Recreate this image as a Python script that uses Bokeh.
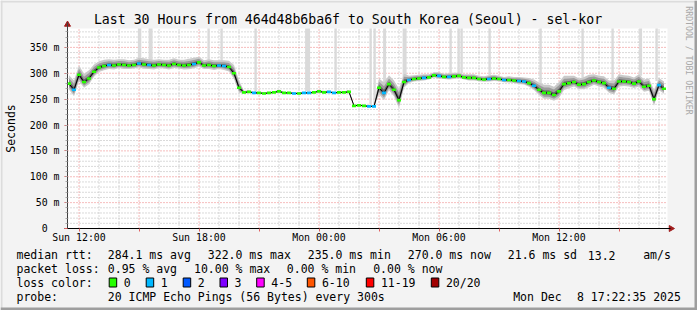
import numpy as np
from bokeh.plotting import figure
from bokeh.models import Range1d, FixedTicker, LinearAxis
from bokeh.core.properties import value
from bokeh.embed import file_html
from bokeh.resources import INLINE

FONT = "DejaVu Sans Mono"

# ---------------- data ----------------
# time axis in hours since Sun 00:00
T_START, T_END = 11.425, 41.425
Y_TOP = 386.5

x_ticks = [12, 15, 18, 21, 24, 27, 30, 33, 36, 39]
x_tick_labels = {12: "Sun 12:00", 18: "Sun 18:00", 24: "Mon 00:00",
                 30: "Mon 06:00", 36: "Mon 12:00"}
x_hours = [h for h in range(12, 42) if h not in x_ticks]

y_ticks = [0, 50, 100, 150, 200, 250, 300, 350]
y_tick_labels = ["0\u00a0\u00a0", "50 m", "100 m", "150 m", "200 m", "250 m", "300 m", "350 m"]
y_minor = [v for v in range(10, 390, 10) if v % 50]

sample_start, sample_step = 11.5, 0.25   # 15 min samples

median_ms = [280, 268, 297, 283, 290, 303, 311, 314,
             316, 315, 317, 316, 315, 316, 319, 317, 316, 315,
             317, 316, 315, 318, 316, 315, 316, 318, 321, 315,
             316, 314, 315, 314, 312, 300, 272, 263, 264, 262,
             262, 261, 262, 263, 265, 262, 262, 261, 261, 262,
             262, 263, 265, 263, 264, 262, 263, 263, 264, 237,
             238, 237, 236, 236, 272, 262, 279, 268, 248, 283,
             287, 289, 290, 291, 292, 296, 295, 293, 293, 294,
             295, 292, 291, 291, 289, 288, 289, 290, 289, 287,
             287, 286, 285, 284, 281, 276, 268, 262, 262, 258,
             265, 279, 281, 283, 278, 279, 283, 286, 283, 281,
             272, 270, 284, 284, 283, 280, 284, 274, 276, 250,
             277, 270]

loss_count = [0, 1, 0, 0, 0, 0, 0, 0, 1, 0,
              0, 0, 0, 0, 1, 0, 1, 0, 0, 0,
              0, 0, 0, 0, 0, 1, 0, 0, 0, 0,
              1, 1, 0, 0, 0, 0, 0, 1, 0, 0,
              0, 0, 0, 0, 0, 1, 0, 1, 1, 0,
              0, 0, 1, 1, 0, 0, 0, 0, 0, 0,
              1, 1, 0, 1, 0, 0, 0, 0, 1, 0,
              0, 1, 0, 0, 1, 0, 1, 0, 0, 0,
              0, 0, 0, 0, 1, 0, 0, 1, 0, 0,
              1, 1, 0, 1, 0, 0, 0, 0, 0, 0,
              0, 0, 0, 0, 0, 0, 0, 0, 1, 0,
              0, 0, 0, 0, 0, 0, 0, 0, 1, 0]

smoke_spread = [16, 18, 18, 16, 16, 14, 12, 12,
                11, 11, 10, 11, 10, 10, 11, 12, 11, 11, 10, 10, 11, 11, 10, 11, 12, 12, 11, 10, 11, 11,
                10, 11, 12,
                16, 14,
                3, 3, 2, 2, 2, 2, 2, 3, 2, 2, 2, 2, 2, 2, 2, 2, 3, 2, 2, 2, 2, 3,
                2, 2, 2, 2, 3,
                18, 20, 17, 18, 22, 16,
                8, 7, 7, 7, 6, 6, 7, 6, 7, 7, 6, 6, 7, 7, 6, 6, 7, 7, 6, 6, 7, 7, 8, 8, 10,
                12, 14, 16, 16, 16, 18, 16, 14, 12, 12, 14, 14, 12, 12, 13, 14, 16, 14, 12, 12,
                12, 14, 14, 14, 18, 14, 14]

spike_t = [15.03, 15.58, 18.48, 19.13, 20.83, 23.43, 24.83, 26.58, 26.78, 27.28,
           28.28, 30.58, 30.98, 31.13, 32.53, 35.08, 37.18, 38.68, 40.08, 40.88]
spike_base = [325, 325, 324, 323, 264, 265, 266, 239, 238, 280,
              290, 300, 300, 300, 296, 275, 292, 285, 295, 285]
spike_width = [0.17, 0.2, 0.12, 0.12, 0.12, 0.25, 0.12, 0.12, 0.12, 0.15,
               0.2, 0.12, 0.12, 0.12, 0.12, 0.12, 0.12, 0.12, 0.15, 0.12]

legend_names = ["0", "1", "2", "3", "4-5", "6-10", "11-19", "20/20"]
legend_cols = ["#26ff00", "#00b8ff", "#0059ff", "#7e00ff", "#ff00ff", "#ff5500", "#ff0000", "#a10000"]

# ---------------- geometry (canvas px -> data) ----------------
W, H = 697, 310
FL, FT, FW, FH = 67, 28, 600, 200
FB = FT + FH
PX_H = FW / (T_END - T_START)     # px per hour
PX_MS = FH / Y_TOP                # px per ms
TEXT_DY = 3.5                     # baseline correction for svg text


def dx(X):
    return T_START + (X - FL) / PX_H


def dy(Y):
    return (FB - Y) / PX_MS


p = figure(width=W, height=H, output_backend="svg", toolbar_location=None,
           x_range=Range1d(dx(0), dx(W)), y_range=Range1d(dy(H), dy(0)),
           x_axis_type=None, y_axis_type=None, min_border=0, title="")
p.title.visible = False
p.background_fill_color = "#f3f3f3"
p.border_fill_color = "#f3f3f3"
p.outline_line_color = None
p.grid.visible = False

# frame shading (3D border)
p.quad(left=[dx(0), dx(0), dx(694), dx(0)], right=[dx(W), dx(2), dx(W), dx(W)],
       top=[dy(0), dy(0), dy(0), dy(307)], bottom=[dy(2), dy(H), dy(H), dy(H)],
       fill_color=["#dcdcdc", "#dcdcdc", "#9e9e9e", "#9e9e9e"], line_color=None)

# white canvas
p.quad(left=[T_START], right=[T_END], bottom=[0], top=[Y_TOP], fill_color="white", line_color=None)

# grid
p.segment(x0=x_hours, x1=x_hours, y0=0, y1=Y_TOP, line_color="#b4b4b4", line_dash="1 2", line_width=1)
p.segment(x0=T_START, x1=T_END, y0=y_minor, y1=y_minor, line_color="#b4b4b4", line_dash="1 2", line_width=1)
p.segment(x0=x_ticks, x1=x_ticks, y0=0, y1=Y_TOP, line_color="#ec7a7a", line_dash="1 2", line_width=1)
p.segment(x0=T_START, x1=T_END, y0=y_ticks[1:], y1=y_ticks[1:], line_color="#ec7a7a", line_dash="1 2",
          line_width=1)

# ---------------- marks ----------------
t = sample_start + sample_step * np.arange(len(median_ms))
med = np.array(median_ms, dtype=float)
spr = np.array(smoke_spread, dtype=float)

p.vbar(x=spike_t, width=spike_width, bottom=spike_base, top=Y_TOP,
       fill_color="#dadada", line_color=None)
p.varea(x=t, y1=med - 0.7 * spr, y2=med + spr, fill_color="#cacaca")
p.varea(x=t, y1=med - 0.45 * spr, y2=med + 0.65 * spr, fill_color="#9c9c9c")
p.varea(x=t, y1=med - 0.2 * spr, y2=med + 0.3 * spr, fill_color="#5e5e5e")
p.line(t, med, line_color="black", line_width=1)

seg_col = [legend_cols[c] if c < 4 else legend_cols[4] for c in loss_count]
p.segment(x0=t - 0.1, x1=t + 0.1, y0=med, y1=med, line_color=seg_col, line_width=2.6)

# ---------------- axes ----------------
yaxis = LinearAxis(fixed_location=T_START, bounds=(0, dy(22)),
                   ticker=FixedTicker(ticks=y_ticks, minor_ticks=[v for v in range(10, 390, 10)]))
yaxis.major_label_overrides = dict(zip(y_ticks, y_tick_labels))
xaxis = LinearAxis(fixed_location=0, bounds=(dx(64), dx(670)),
                   ticker=FixedTicker(ticks=x_ticks, minor_ticks=[]))
xaxis.major_label_overrides = {tk: x_tick_labels.get(tk, "") for tk in x_ticks}
for ax in (xaxis, yaxis):
    ax.major_label_text_font = FONT
    ax.major_label_text_font_size = "9.9px"
    ax.major_label_text_color = "black"
    ax.major_tick_in = 0
    ax.major_tick_out = 3
    ax.minor_tick_in = 0
    ax.minor_tick_out = 2
    ax.major_tick_line_color = "#e06060"
    ax.minor_tick_line_color = "#a8a8a8"
xaxis.axis_line_color = "black"
yaxis.axis_line_color = "#404040"
xaxis.major_label_standoff = 0
yaxis.major_label_standoff = 5
p.add_layout(yaxis, "left")
p.add_layout(xaxis, "below")

# arrow heads
p.scatter(x=[T_START], y=[dy(24)], marker="triangle", size=6, fill_color="#a01c1c", line_color="#a01c1c")
p.scatter(x=[dx(670.5)], y=[0], marker="triangle", angle=-np.pi / 2, size=6,
          fill_color="#a01c1c", line_color="#a01c1c")


# ---------------- texts ----------------
def lab(text, X, Y, size="11.5px", align="left", baseline="alphabetic", angle=0.0, color="black"):
    if baseline == "alphabetic":
        Y = Y - TEXT_DY
    p.text(x=[dx(X)], y=[dy(Y)], text=[text], text_font=value(FONT), text_font_size=value(size),
           text_align=align, text_baseline=baseline, angle=angle, text_color=color)


lab("Last 30 Hours from 464d48b6ba6f to South Korea (Seoul) - sel-kor", 347.5, 22.5, size="13.2px",
    align="center")
lab("Seconds", 10.5, 128, size="11.5px", align="center", baseline="middle", angle=np.pi / 2)
lab("RRDTOOL / TOBI OETIKER", 688, 60, size="8.2px", align="center", baseline="middle",
    angle=-np.pi / 2, color="#a8a8a8")

L1, L2, L3, L4 = 258.3, 272.0, 285.8, 299.7
lab("median rtt:", 16, L1)
for txt, xx in [("284.1 ms avg", 107.3), ("322.0 ms max", 207.3), ("235.0 ms min", 307.3),
                ("270.0 ms now", 407.3), ("21.6 ms sd", 507.3), ("13.2", 587.3), ("am/s", 642.7)]:
    lab(txt, xx, L1)
lab("packet loss:", 16, L2)
for txt, xx in [("0.95 % avg", 107.3), ("10.00 % max", 193.5), ("0.00 % min", 286.3),
                ("0.00 % now", 372.7)]:
    lab(txt, xx, L2)
lab("loss color:", 16, L3)
box_x = [108.7, 145.7, 182.7, 219.5, 256.2, 306.8, 365.8, 430.8]
p.quad(left=[dx(b) for b in box_x], right=[dx(b + 7.5) for b in box_x],
       top=dy(277.5), bottom=dy(286.5), fill_color=legend_cols, line_color="black", line_width=1)
for bx, name in zip(box_x, legend_names):
    lab(name, bx + 14.6, L3)
lab("probe:", 16, L4)
lab("20 ICMP Echo Pings (56 Bytes) every 300s", 107.3, L4)
lab("Mon Dec", 512.7, L4)
lab("8 17:22:35 2025", 576.5, L4)

open("out.html", "w").write(file_html(p, INLINE))
